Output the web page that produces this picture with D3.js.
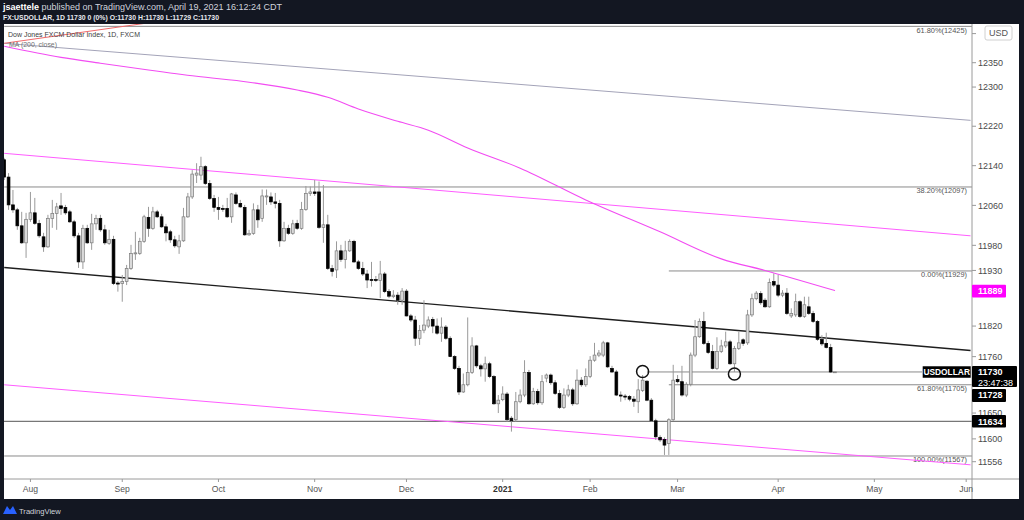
<!DOCTYPE html>
<html><head><meta charset="utf-8">
<script src="https://cdn.jsdelivr.net/npm/d3@7"></script>
<style>body{margin:0;background:#131722;overflow:hidden}svg{display:block;font-family:"Liberation Sans",Arial,sans-serif}</style>
</head><body><svg id="c" width="1024" height="520"></svg>
<script>
// ---------- DATA ----------
const opens=[12152,12117,12061,12051,12019,11985,12032,12045,12024,11997,11977,12034,12044,12059,12056,12047,12027,11999,11947,12014,11985,12023,12034,12011,11984,11992,11905,11904,11908,11934,11963,11964,11988,12036,12014,12047,12037,12017,12007,11991,11977,11989,12037,12077,12121,12121,12138,12104,12074,12056,12054,12054,12037,12081,12064,12056,12001,12004,12051,12034,12077,12077,12067,12064,11989,12014,12004,12024,12014,12052,12084,12087,12087,12016,12021,11934,11931,11969,11952,11969,11988,11947,11934,11923,11912,11912,11910,11923,11888,11878,11881,11871,11889,11840,11832,11796,11812,11820,11833,11820,11806,11818,11796,11760,11737,11691,11705,11729,11781,11742,11736,11746,11721,11668,11676,11687,11640,11637,11672,11685,11729,11668,11692,11670,11718,11724,11709,11688,11661,11685,11695,11668,11714,11705,11721,11753,11763,11763,11787,11737,11730,11685,11683,11682,11677,11672,11694,11712,11675,11635,11603,11599,11591,11637,11715,11711,11685,11706,11763,11799,11829,11786,11770,11737,11770,11781,11789,11746,11776,11793,11787,11842,11874,11884,11871,11858,11908,11901,11881,11885,11840,11842,11868,11839,11858,11845,11829,11794,11786,11778,11730];
const highs=[12156,12125,12091,12055,12047,12045,12087,12075,12031,12005,12041,12071,12065,12085,12061,12051,12031,12005,12021,12021,12043,12041,12041,12021,12011,11999,11909,11921,11941,11981,12007,11995,12041,12057,12057,12051,12043,12023,12011,11999,12001,12055,12085,12131,12145,12158,12141,12111,12081,12077,12061,12075,12085,12086,12071,12061,12011,12064,12061,12092,12092,12086,12085,12071,12027,12021,12031,12031,12067,12099,12098,12111,12108,12101,12041,11941,11988,11981,11989,11992,11991,11951,11947,11931,11947,11919,11949,11927,11893,11891,11887,11895,11893,11844,11840,11822,11871,11839,11838,11835,11837,11822,11800,11763,11742,11727,11837,11798,11783,11746,11760,11750,11724,11685,11702,11691,11644,11691,11696,11753,11734,11699,11697,11724,11727,11727,11714,11695,11698,11705,11699,11735,11720,11737,11761,11787,11773,11791,11789,11742,11734,11692,11687,11685,11683,11716,11724,11714,11679,11639,11607,11603,11640,11744,11724,11742,11710,11768,11832,11835,11848,11791,11783,11798,11793,11809,11793,11781,11809,11796,11852,11884,11889,11889,11875,11914,11924,11921,11891,11895,11855,11884,11871,11878,11878,11850,11832,11802,11807,11785,11730];
const lows=[12111,12051,12045,12011,11983,11955,12027,12021,11995,11967,11975,12015,12011,12041,12041,12025,11995,11935,11933,11983,11971,12011,12007,11981,11981,11901,11888,11868,11901,11931,11951,11961,11985,11997,12011,12035,12015,11988,11985,11975,11963,11987,12035,12073,12105,12111,12101,12071,12047,12031,12047,12035,12025,12061,12055,11999,11999,12001,12015,12027,12061,12061,12054,11977,11987,12001,12001,12011,12011,12049,12079,12079,12013,11985,11931,11918,11915,11947,11934,11967,11945,11931,11919,11895,11898,11907,11875,11885,11875,11875,11862,11862,11839,11828,11781,11783,11806,11816,11806,11803,11789,11793,11759,11734,11685,11689,11702,11726,11738,11721,11711,11718,11666,11650,11673,11633,11614,11633,11669,11681,11666,11666,11666,11666,11710,11705,11685,11658,11658,11681,11664,11666,11701,11701,11718,11750,11759,11759,11738,11728,11683,11672,11675,11673,11662,11650,11691,11673,11633,11598,11594,11569,11569,11635,11708,11682,11681,11702,11759,11797,11783,11765,11735,11734,11767,11777,11744,11730,11773,11781,11783,11838,11871,11862,11856,11856,11897,11877,11877,11842,11836,11838,11836,11836,11842,11826,11791,11781,11776,11728,11729];
const closes=[12117,12061,12051,12019,11985,12032,12045,12024,11999,11977,12034,12044,12057,12054,12045,12027,11999,11947,12014,11985,12023,12034,12011,11985,11992,11904,11903,11908,11934,11964,11965,11988,12037,12014,12047,12037,12017,12005,11991,11979,11989,12037,12077,12123,12125,12138,12104,12074,12056,12052,12052,12037,12083,12064,12057,12001,12004,12051,12031,12079,12079,12067,12064,11989,12014,12004,12023,12014,12052,12084,12087,12084,12016,12021,11934,11928,11969,11952,11969,11988,11947,11934,11923,11911,11910,11910,11923,11888,11879,11881,11871,11889,11840,11832,11796,11811,11822,11832,11820,11806,11818,11796,11760,11737,11691,11705,11729,11781,11742,11736,11746,11721,11668,11675,11687,11637,11635,11672,11685,11729,11668,11692,11670,11711,11724,11709,11688,11661,11685,11695,11668,11714,11705,11721,11753,11763,11767,11787,11740,11730,11685,11683,11681,11677,11673,11695,11714,11675,11635,11604,11598,11588,11637,11714,11711,11685,11706,11763,11799,11829,11786,11768,11737,11770,11781,11789,11746,11776,11787,11786,11842,11874,11885,11866,11858,11906,11901,11881,11885,11845,11845,11868,11839,11862,11845,11829,11794,11785,11778,11730,11730];

// 200-day moving average, read at a few bars
const maIdx=[1,14,23,34,45,57,68,75,82,91,98,107,119,134,151,165,175,191];
const maVals=[12384,12361,12349,12335,12322,12310,12294,12279,12255,12230,12212,12176,12135,12071,12007,11953,11930,11890];

// drawn trend lines [barIndex, price]
const grayLine=[[1,12390],[222,12232]];
const redLine=[[1,12390],[40,12440]];
const upperChannel=[[1,12165],[222,11999]];
const blackLine=[[1,11936],[222,11772]];
const lowerChannel=[[1,11705],[222,11550]];

// Fibonacci / horizontal levels
const fibValues=[12425,12097,11929,11705,11567];
const fibLabels=["61.80%(12425)","38.20%(12097)","0.00%(11929)","61.80%(11705)","100.00%(11567)"];
const fibStart=[1,1,153,153,1];
const supportLevel=11634;
const rayLevel=11730, rayStart=148;
const circleIdx=[147,168];
const circleVals=[11731,11726];

// axis
const priceTicks=[12410,12350,12300,12220,12140,12060,11980,11930,11820,11760,11650,11600,11556];
const hiddenTicks=[12410]; // covered by the currency tag in the original
const monthIdx=[7,28,50,72,93,115,135,155,178,200,221];
const monthLabels=["Aug","Sep","Oct","Nov","Dec","2021","Feb","Mar","Apr","May","Jun"];

// ---------- LAYOUT ----------
const P={l:4,r:972,t:24,b:479,R:1019,B:499};
const svg=d3.select("#c");
const x=d3.scaleLinear().domain([1,191]).range([4.2,835]);
const y=d3.scaleLog().domain([11556,12350]).range([461.7,62.7]);

// header
const h1=svg.append("text").attr("x",3).attr("y",10).attr("font-size",8.8).attr("fill","#d1d4dc")
  .attr("textLength",279).attr("lengthAdjust","spacingAndGlyphs");
h1.append("tspan").attr("font-weight","bold").attr("fill","#ffffff").text("jsaettele");
h1.append("tspan").text(" published on TradingView.com, April 19, 2021 16:12:24 CDT");
svg.append("text").attr("x",3).attr("y",19.5).attr("font-size",7.4).attr("font-weight","bold").attr("fill","#e8eaf0")
  .attr("textLength",216).attr("lengthAdjust","spacingAndGlyphs")
  .text("FX:USDOLLAR, 1D  11730 0 (0%) O:11730 H:11730 L:11729 C:11730");

// panel
svg.append("rect").attr("x",P.l).attr("y",P.t).attr("width",P.R-P.l).attr("height",P.B-P.t).attr("fill","#fff");
svg.append("clipPath").attr("id","pc").append("rect").attr("x",P.l).attr("y",P.t).attr("width",P.r-P.l).attr("height",P.b-P.t);
const g=svg.append("g").attr("clip-path","url(#pc)");

const seg=(pts,color,w)=>g.append("line")
  .attr("x1",x(pts[0][0])).attr("y1",y(pts[0][1])).attr("x2",x(pts[1][0])).attr("y2",y(pts[1][1]))
  .attr("stroke",color).attr("stroke-width",w);

// horizontal levels
fibValues.forEach((v,i)=>{
  g.append("line").attr("x1",x(fibStart[i])).attr("x2",P.r).attr("y1",y(v)).attr("y2",y(v))
   .attr("stroke","#8a8a8a").attr("stroke-width",1);
  g.append("text").attr("x",P.r-5).attr("y",y(v)+6.5).attr("text-anchor","end")
   .attr("font-size",7.4).attr("fill","#555").text(fibLabels[i]);
});
g.append("line").attr("x1",P.l).attr("x2",P.r).attr("y1",y(supportLevel)).attr("y2",y(supportLevel))
  .attr("stroke","#555").attr("stroke-width",1);
g.append("line").attr("x1",x(rayStart)).attr("x2",922).attr("y1",y(rayLevel)).attr("y2",y(rayLevel))
  .attr("stroke","#8a8a8a").attr("stroke-width",1);

seg(grayLine,"#a3a3b8",1);
seg(redLine,"#ef6a6a",1);
seg(upperChannel,"#ff5cff",1);
seg(lowerChannel,"#ff5cff",1);
seg(blackLine,"#1e1e1e",1.4);

// MA
g.append("path").datum(maIdx.map((d,i)=>[d,maVals[i]]))
  .attr("d",d3.line().x(d=>x(d[0])).y(d=>y(d[1])).curve(d3.curveMonotoneX))
  .attr("fill","none").attr("stroke","#f24cf2").attr("stroke-width",1.1);

// candles
const bars=opens.map((o,i)=>({i:i+1,o,h:highs[i],l:lows[i],c:closes[i]}));
const bw=2.8;
g.selectAll(".wick").data(bars).join("line")
  .attr("x1",d=>x(d.i)).attr("x2",d=>x(d.i)).attr("y1",d=>y(d.h)).attr("y2",d=>y(d.l))
  .attr("stroke","#9a9a9a").attr("stroke-width",1);
g.selectAll(".body").data(bars).join("rect")
  .attr("x",d=>x(d.i)-bw/2).attr("width",bw)
  .attr("y",d=>y(Math.max(d.o,d.c)))
  .attr("height",d=>Math.max(0.8,y(Math.min(d.o,d.c))-y(Math.max(d.o,d.c))))
  .attr("fill",d=>d.c>=d.o?"#dadada":"#000")
  .attr("stroke",d=>d.c>=d.o?"#7a7a7a":"#000").attr("stroke-width",0.7);

// circles
circleIdx.forEach((c,i)=>g.append("circle").attr("cx",x(c)).attr("cy",y(circleVals[i])).attr("r",6)
  .attr("fill","none").attr("stroke","#111").attr("stroke-width",1.5));

// legend
svg.append("text").attr("x",8).attr("y",37).attr("font-size",7.8).attr("fill","#3d3d3d")
  .attr("textLength",132).attr("lengthAdjust","spacingAndGlyphs").text("Dow Jones FXCM Dollar Index, 1D, FXCM");
svg.append("text").attr("x",9).attr("y",46.5).attr("font-size",7.8).attr("fill","#707070")
  .attr("textLength",48).attr("lengthAdjust","spacingAndGlyphs").text("MA (200, close)");

// axes frame
svg.append("line").attr("x1",P.r).attr("x2",P.r).attr("y1",P.t).attr("y2",P.B).attr("stroke","#9a9a9a");
svg.append("line").attr("x1",P.l).attr("x2",P.R).attr("y1",P.b).attr("y2",P.b).attr("stroke","#9a9a9a");

// price axis
priceTicks.forEach(v=>{
  svg.append("line").attr("x1",P.r).attr("x2",P.r+4).attr("y1",y(v)).attr("y2",y(v)).attr("stroke","#9a9a9a");
  if(!hiddenTicks.includes(v))
    svg.append("text").attr("x",P.r+6).attr("y",y(v)+3.2).attr("font-size",9).attr("fill","#4a4a4a").text(v);
});

// price label boxes
function box(v,top,h,w,fill,lines){
  svg.append("rect").attr("x",P.r).attr("y",top).attr("width",w).attr("height",h).attr("fill",fill).attr("rx",1);
  lines.forEach((t,k)=>svg.append("text").attr("x",P.r+6).attr("y",top+9.5+k*10.5)
    .attr("font-size",9).attr("font-weight",k===0?"bold":"normal").attr("fill","#fff").text(t));
  return top+h;
}
box(11889,y(11889)-6.3,12.6,34,"#ff00ff",["11889"]);
let bot=box(11730,y(11730)-6,21,45,"#000",["11730","23:47:38"]);
box(11728,Math.max(y(11728)-6.5,bot+2),13,34,"#000",["11728"]);
box(supportLevel,y(supportLevel)-6.3,12.6,34,"#000",["11634"]);
// symbol label on chart
svg.append("rect").attr("x",922.7).attr("y",y(rayLevel)-5.7).attr("width",48).attr("height",11.5).attr("fill","#000");
svg.append("text").attr("x",946.7).attr("y",y(rayLevel)+3).attr("text-anchor","middle").attr("font-size",8.4)
  .attr("font-weight","bold").attr("fill","#fff").text("USDOLLAR");
// currency tag
svg.append("rect").attr("x",985).attr("y",26).attr("width",27).attr("height",14).attr("fill","#fff").attr("stroke","#d0d0d0").attr("rx",2);
svg.append("text").attr("x",998.5).attr("y",36).attr("text-anchor","middle").attr("font-size",9).attr("fill","#555").text("USD");

// time axis
monthIdx.forEach((m,i)=>{
  svg.append("line").attr("x1",x(m)).attr("x2",x(m)).attr("y1",P.b).attr("y2",P.b+3).attr("stroke","#9a9a9a");
  svg.append("text").attr("x",x(m)).attr("y",492).attr("text-anchor","middle").attr("font-size",8.6)
    .attr("font-weight",monthLabels[i]==="2021"?"bold":"normal")
    .attr("fill",monthLabels[i]==="2021"?"#333":"#555").text(monthLabels[i]);
});

// footer
svg.append("path").attr("d","M3,514 L7,506 L10,510 L13,506 L17,514 Z").attr("fill","#2962ff");
svg.append("text").attr("x",19).attr("y",513.5).attr("font-size",7.6).attr("fill","#d1d4dc").text("TradingView");
</script></body></html>
